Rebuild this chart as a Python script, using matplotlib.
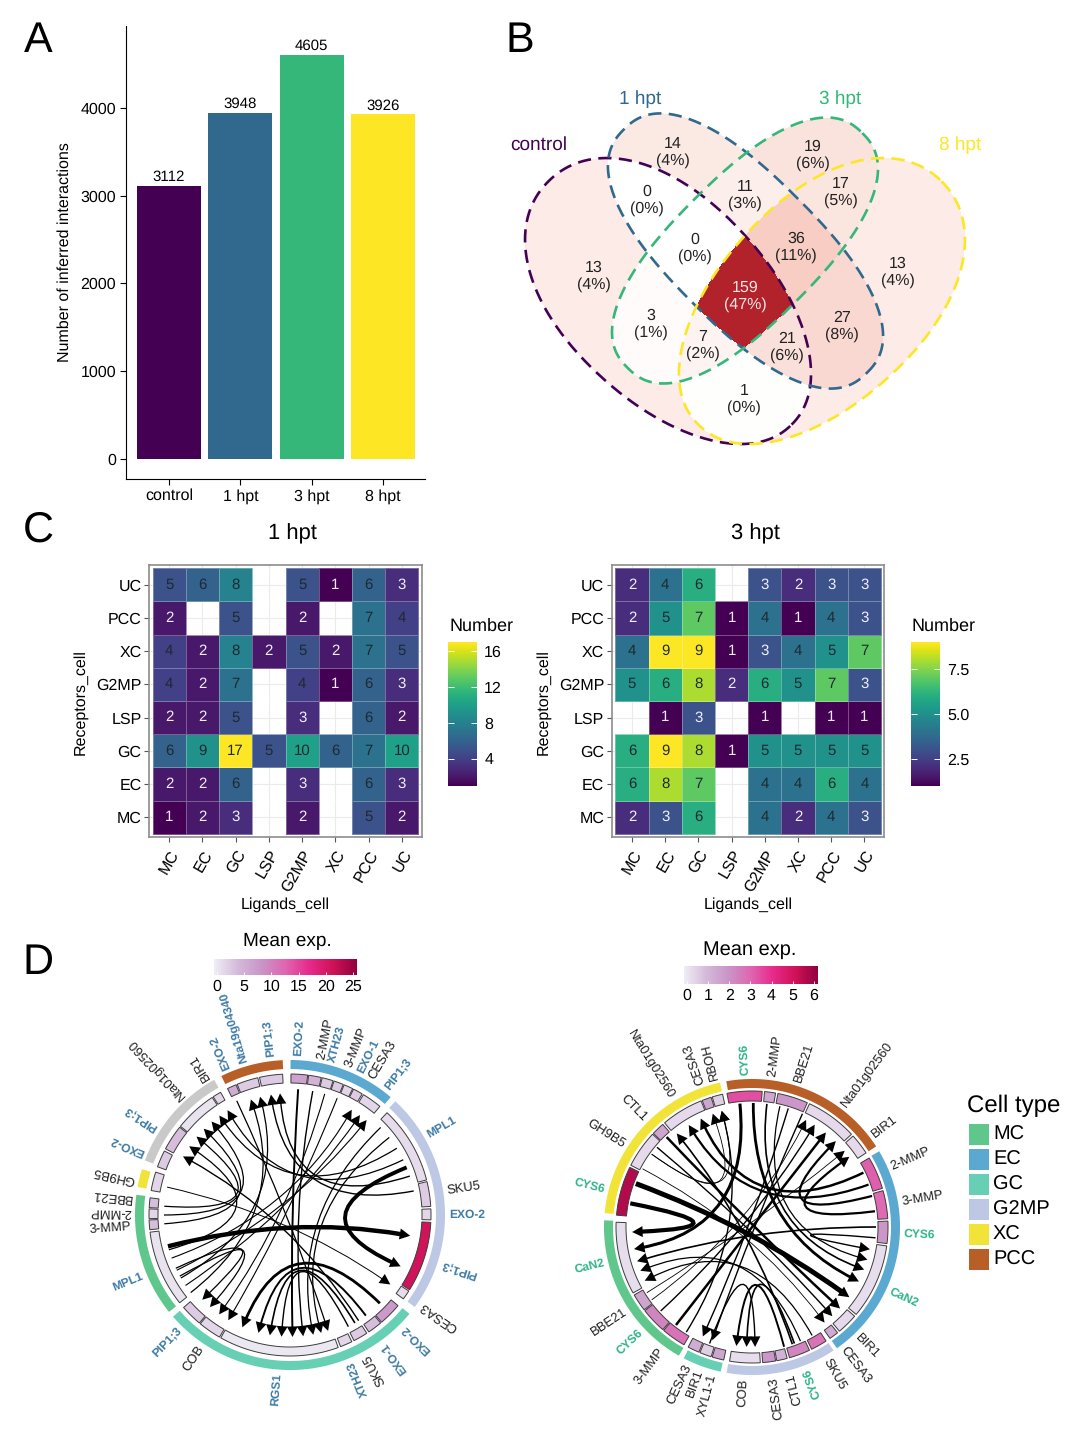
import numpy as np
import matplotlib
matplotlib.use('Agg')
import matplotlib.pyplot as plt
from matplotlib.cm import ScalarMappable
from matplotlib.colors import LinearSegmentedColormap, Normalize
from matplotlib.patches import PathPatch, Polygon, Rectangle
from matplotlib.path import Path

plt.rcParams['font.family'] = ['Liberation Sans', 'DejaVu Sans']
plt.rcParams['text.hinting'] = 'no_hinting'
plt.rcParams['text.hinting_factor'] = 1

W, H = 1080, 1433

# panel A
timepoints = ['control', '1 hpt', '3 hpt', '8 hpt']
interactions = [3112, 3948, 4605, 3926]
time_colors = ['#440154', '#31688E', '#35B779', '#FDE725']

# panel B, region membership as control / 1 hpt / 3 hpt / 8 hpt
venn_regions = ['1000', '0100', '0010', '0001', '1100', '1010', '1001', '0110',
                '0101', '0011', '1110', '1011', '1101', '0111', '1111']
venn_counts = [13, 14, 19, 13, 0, 3, 1, 11, 27, 17, 0, 7, 21, 36, 159]
venn_pcts = [4, 4, 6, 4, 0, 1, 0, 3, 8, 5, 0, 2, 6, 11, 47]

# panel C
ligand_cells = ['MC', 'EC', 'GC', 'LSP', 'G2MP', 'XC', 'PCC', 'UC']
receptor_cells = ['MC', 'EC', 'GC', 'LSP', 'G2MP', 'XC', 'PCC', 'UC']
n = np.nan
heat_1hpt = [[1, 2, 3, n, 2, n, 5, 2],
             [2, 2, 6, n, 3, n, 6, 3],
             [6, 9, 17, 5, 10, 6, 7, 10],
             [2, 2, 5, n, 3, n, 6, 2],
             [4, 2, 7, n, 4, 1, 6, 3],
             [4, 2, 8, 2, 5, 2, 7, 5],
             [2, n, 5, n, 2, n, 7, 4],
             [5, 6, 8, n, 5, 1, 6, 3]]
heat_3hpt = [[2, 3, 6, n, 4, 2, 4, 3],
             [6, 8, 7, n, 4, 4, 6, 4],
             [6, 9, 8, 1, 5, 5, 5, 5],
             [n, 1, 3, n, 1, n, 1, 1],
             [5, 6, 8, 2, 6, 5, 7, 3],
             [4, 9, 9, 1, 3, 4, 5, 7],
             [2, 5, 7, 1, 4, 1, 4, 3],
             [2, 4, 6, n, 3, 2, 3, 3]]

# panel D, left chord diagram (angles clockwise from 12 o'clock)
cell_colors = {'MC': '#5FC78B', 'EC': '#5BA8D1', 'GC': '#67CFB4', 'G2MP': '#BCC8E4',
               'XC': '#F1E337', 'PCC': '#B85F28', 'UC': '#C9C9C9'}
left_sectors = ['EC', 'G2MP', 'GC', 'MC', 'XC', 'UC', 'PCC']
left_sector_start = [0.2, 42.8, 129.6, 231.3, 280.4, 290.6, 333.7]
left_sector_end = [40.5, 126.4, 229.0, 277.5, 287.2, 330.7, 357.3]
left_genes = ['EXO-2', '2-MMP', 'XTH23', '3-MMP', 'EXO-1', 'CESA3', 'PIP1;3',
              'MPL1', 'SKU5', 'EXO-2', 'PIP1;3', 'CESA3',
              'EXO-2', 'EXO-1', 'SKU5', 'XTH23', 'RGS1', 'COB', 'PIP1;3',
              'MPL1', '3-MMP', '2-MMP', 'BBE21', 'GH9B5',
              'EXO-2', 'PIP1;3', 'Nta01g02560', 'BIR1',
              'EXO-2', 'Nta19g04340', 'PIP1;3']
left_gene_start = [0.4, 7.6, 13.2, 18.2, 22.6, 26.8, 31.4,
                   43.5, 76.3, 87.5, 93.0, 122.6,
                   130.0, 140.0, 147.0, 154.0, 160.0, 210.0, 220.0,
                   231.5, 264.0, 268.5, 273.0, 280.0,
                   290.0, 298.0, 309.0, 327.0,
                   333.7, 338.0, 347.5]
left_gene_end = [7.2, 12.8, 17.8, 22.2, 26.4, 30.8, 39.6,
                 75.6, 86.5, 92.0, 122.0, 126.5,
                 139.5, 146.0, 153.0, 159.0, 209.4, 219.5, 229.0,
                 263.0, 268.0, 272.5, 277.0, 287.7,
                 297.0, 308.5, 326.5, 330.5,
                 337.5, 346.8, 357.0]
left_gene_exp = [7, 5, 3, 3, 2, 3, 2,
                 1.5, 3, 2, 21, 1.5,
                 8, 4, 3, 2, 0.5, 2, 3,
                 1, 4, 2, 4, 2,
                 3, 4, 1, 2,
                 6, 3, 3]
left_label_angle = [3.0, 11.4, 15.4, 21.4, 26.3, 30.9, 37.6,
                    60.0, 81.2, 90.0, 107.8, 124.4,
                    134.6, 144.0, 151.3, 157.6, 184.4, 214.0, 223.9,
                    247.6, 265.8, 271.0, 276.0, 282.7,
                    292.9, 302.9, 317.4, 328.4,
                    336.6, 343.3, 353.4]
left_black_labels = ['2-MMP', '3-MMP', 'CESA3', 'SKU5', 'COB', 'BBE21', 'GH9B5',
                     'Nta01g02560', 'BIR1']
left_link_from = [255.6, 67.8, 134.5, 143.0, 149.0, 152.4, 3.7, 10.4, 46.0, 52.0, 335.0,
                  282.8, 147.0, 254.0, 274.0, 266.0, 270.0, 58.0, 64.0,
                  232.0, 240.0, 79.0, 72.0, 250.0, 236.0, 244.0, 22.0, 16.0, 245.0, 241.0]
left_link_to = [99.8, 114.9, 203.0, 195.0, 189.5, 184.0, 178.8, 173.8, 169.0, 165.2, 161.8,
                124.7, 298.7, 304.3, 310.0, 315.0, 320.0, 324.6, 329.2,
                341.3, 345.8, 351.0, 355.3, 30.4, 35.0, 38.9, 210.4, 215.5, 221.0, 226.0]
left_link_width = [3.2, 2.8, 2.0, 1.4, 1.2, 1.0, 1.4, 1.0, 0.9, 0.9, 0.9,
                   0.7, 1.0, 0.9, 0.9, 0.9, 0.9, 0.9, 0.9,
                   0.9, 0.9, 1.0, 1.0, 0.8, 0.8, 0.8, 0.8, 0.8, 0.9, 0.9]

# panel D, right chord diagram
right_sectors = ['PCC', 'EC', 'G2MP', 'GC', 'MC', 'XC']
right_sector_start = [-10.0, 59.2, 146.6, 192.2, 209.6, 275.4]
right_sector_end = [57.0, 145.0, 189.9, 207.5, 272.6, 347.5]
right_genes = ['CYS6', '2-MMP', 'BBE21', 'Nta01g02560', 'BIR1',
               '2-MMP', '3-MMP', 'CYS6', 'CaN2', 'BIR1', 'CESA3',
               'SKU5', 'CYS6', 'CTL1', 'CESA3', 'COB',
               'XYL1-1', 'BIR1', 'CESA3',
               '3-MMP', 'CYS6', 'BBE21', 'CaN2',
               'CYS6', 'GH9B5', 'CTL1', 'Nta01g02560', 'CESA3', 'RBOH']
right_gene_start = [-10.6, 5.3, 11.0, 25.0, 48.0,
                    59.5, 74.5, 87.5, 98.0, 131.0, 141.0,
                    147.0, 155.0, 165.0, 170.0, 176.5,
                    192.0, 197.5, 203.0,
                    210.0, 221.0, 232.5, 241.0,
                    275.0, 297.0, 313.5, 320.0, 338.5, 343.0]
right_gene_end = [4.3, 10.0, 24.0, 47.0, 57.0,
                  73.5, 86.5, 97.0, 130.0, 140.0, 145.0,
                  154.0, 164.0, 169.5, 175.5, 189.5,
                  197.0, 202.5, 208.0,
                  220.5, 232.0, 240.0, 272.0,
                  296.0, 313.0, 319.0, 338.0, 342.5, 347.5]
right_gene_exp = [3.5, 1.5, 2, 0.4, 0.4,
                  3.2, 3.0, 2, 0.3, 0.4, 1.5,
                  2.8, 2.4, 1.2, 2.0, 0.3,
                  1.6, 0.6, 1.4,
                  2.8, 2.4, 1.6, 0.3,
                  5.6, 0.4, 1.6, 0.4, 1.6, 0.6]
right_label_angle = [357.4, 7.7, 17.6, 36.7, 52.7,
                     66.6, 80.5, 92.5, 114.8, 135.9, 143.0,
                     150.5, 159.1, 165.6, 172.0, 183.2,
                     194.9, 200.0, 205.0,
                     216.5, 226.7, 236.4, 256.3,
                     284.3, 302.5, 315.3, 328.3, 340.4, 345.7]
right_colored_labels = ['CYS6', 'CaN2']
right_link_from = [290.5, 281.0, 354.4, 0.6, 64.0, 70.0, 217.8, 75.5, 82.7, 90.0, 95.0,
                   227.4, 234.0, 238.0, 316.5, 310.0, 298.0, 306.0, 306.0, 212.0, 161.0,
                   6.9, 13.0, 157.0, 151.0, 17.0, 24.0, 165.0, 160.0, 200.0]
right_link_to = [125.8, 267.6, 259.4, 117.0, 334.7, 328.2, 38.0, 44.3, 54.2, 253.4, 100.7,
                 31.5, 26.8, 50.6, 132.8, 138.0, 142.8, 345.4, 340.9, 345.4, 321.2,
                 110.8, 105.8, 248.6, 243.4, 204.2, 199.3, 187.5, 182.6, 178.5]
right_link_width = [3.6, 3.0, 2.2, 2.0, 1.8, 1.6, 1.8, 1.6, 1.6, 1.2, 1.0,
                    1.0, 0.6, 0.6, 1.8, 1.0, 0.6, 0.6, 0.6, 1.0, 1.2,
                    1.2, 0.9, 0.9, 0.9, 1.0, 1.0, 1.4, 1.2, 1.0]

legend_cells = ['MC', 'EC', 'GC', 'G2MP', 'XC', 'PCC']

exp_cmap = LinearSegmentedColormap.from_list(
    'exp', ['#EFEDF5', '#D4B9DA', '#C994C7', '#DF65B0', '#E7298A', '#CE1256', '#91003F'])
venn_cmap = LinearSegmentedColormap.from_list(
    'venn', [(0, '#FFFFFF'), (0.08, '#FCEBE6'), (0.23, '#F7CCC3'), (1, '#B2222A')])

fig = plt.figure(figsize=(W / 100, H / 100), dpi=100)
canvas = fig.add_axes([0, 0, 1, 1], zorder=5)
canvas.set_xlim(0, W)
canvas.set_ylim(H, 0)
canvas.axis('off')
canvas.patch.set_alpha(0)


def px_axes(x0, y0, x1, y1):
    """Axes placed by pixel box, y counted from the top"""
    return fig.add_axes([x0 / W, 1 - y1 / H, (x1 - x0) / W, (y1 - y0) / H])


def polar(cx, cy, r, deg):
    a = np.radians(deg)
    return cx + r * np.sin(a), cy - r * np.cos(a)


def draw_bars():
    ax = px_axes(126, 26, 425, 479)
    ax.bar(range(4), interactions, width=0.9, color=time_colors)
    ax.set_xlim(-0.603, 3.589)
    ax.set_ylim(-228, 4934)
    ax.set_xticks(range(4), timepoints)
    ax.set_yticks([0, 1000, 2000, 3000, 4000])
    ax.tick_params(labelsize=11.2, length=4, width=0.8, pad=3)
    ax.spines[['top', 'right']].set_visible(False)
    for i, v in enumerate(interactions):
        ax.text(i, v + 20, str(v), ha='center', va='bottom', fontsize=10.5)
    canvas.text(65, 252, 'Number of inferred interactions', rotation=90,
                ha='center', va='center', fontsize=11.3)


def draw_venn():
    # centre x, centre y, half major, half minor, major axis slope sign, exponent, egg factor
    ellipses = [(670, 303, 172, 101, 1, 2.1, -0.06), (745.5, 251, 172, 74, 1, 2.4, 0),
                (745, 250.5, 166, 72, -1, 2.4, 0), (820, 303, 172, 101, -1, 2.1, 0.06)]
    xs, ys = np.meshgrid(np.arange(510, 980, 0.5), np.arange(105, 455, 0.5))
    members = []
    outlines = []
    for cx, cy, a, b, sign, p, k in ellipses:
        along = ((xs - cx) + sign * (ys - cy)) / np.sqrt(2)
        across = ((xs - cx) - sign * (ys - cy)) / np.sqrt(2)
        width = b * (1 + k * along / a)
        members.append(np.abs(along / a) ** p + np.abs(across / width) ** p <= 1)
        t = np.linspace(0, 2 * np.pi, 500)
        cu, sv = np.cos(t), np.sin(t)
        u = np.sign(cu) * np.abs(cu) ** (2 / p)
        v = np.sign(sv) * np.abs(sv) ** (2 / p) * (1 + k * u)
        u, v = a * u, b * v
        outlines.append((cx + (u + v) / np.sqrt(2), cy + sign * (u - v) / np.sqrt(2)))
    field = np.full(xs.shape, np.nan)
    for region, count in zip(venn_regions, venn_counts):
        mask = np.ones(xs.shape, dtype=bool)
        for flag, member in zip(region, members):
            mask &= member if flag == '1' else ~member
        field[mask] = count
    canvas.imshow(np.ma.masked_invalid(field), cmap=venn_cmap, vmin=0, vmax=159,
                  extent=(510, 980, 455, 105), origin='upper', aspect='auto',
                  interpolation='nearest', zorder=1)
    canvas.set_xlim(0, W)
    canvas.set_ylim(H, 0)
    for (ox, oy), color in zip(outlines, time_colors):
        canvas.plot(ox, oy, color=color, lw=1.9, dashes=(5, 2.8), zorder=2)
    label_x = [594, 673, 813, 898, 647, 651, 744, 745, 842, 841, 695, 703, 787, 796, 745]
    label_y = [276, 152, 155, 272, 200, 324, 399, 195, 326, 192, 248, 345, 347, 247, 296]
    for x, y, c, p in zip(label_x, label_y, venn_counts, venn_pcts):
        canvas.text(x, y, f'{c}\n({p}%)', ha='center', va='center', fontsize=11.2,
                    linespacing=1.2, color='#F4E6E6' if c > 100 else '#222222', zorder=3)
    for name, x, y, color in zip(timepoints, [539, 640, 840, 960], [145, 99, 99, 145],
                                 ['#440154', '#31688E', '#35B779', '#FDE725']):
        canvas.text(x, y, name, ha='center', va='center', fontsize=14, color=color)


def draw_heatmap(values, x0, bar_x0, title, vmax, bar_ticks, bar_labels):
    ax = px_axes(x0, 565, x0 + 272.4, 837)
    data = np.ma.masked_invalid(np.array(values, dtype=float))
    edges = np.arange(9) - 0.5
    ax.grid(color='#EBEBEB', lw=0.8)
    ax.set_axisbelow(True)
    mesh = ax.pcolormesh(edges, edges, data, cmap='viridis', vmin=1, vmax=vmax,
                         edgecolor=(1, 1, 1, 0.3), linewidth=0.6)
    ax.set_xlim(-0.6, 7.6)
    ax.set_ylim(-0.6, 7.6)
    ax.set_xticks(range(8), ligand_cells, rotation=60, ha='right', rotation_mode='anchor')
    ax.set_yticks(range(8), receptor_cells)
    ax.tick_params(labelsize=11.5, length=3.5, width=0.8, color='#555555', pad=2)
    ax.tick_params(axis='x', pad=4)
    for spine in ax.spines.values():
        spine.set_color('#8C8C8C')
        spine.set_linewidth(1.2)
    for row in range(8):
        for col in range(8):
            v = values[row][col]
            if not np.isnan(v):
                ax.text(col, row, str(int(v)), ha='center', va='center', fontsize=10.8,
                        color='#F2EEF8' if v <= 3 else '#1E2A30')
    canvas.text(x0 + 143, 534, title, ha='center', va='center', fontsize=16)
    canvas.text(x0 + 136, 905, 'Ligands_cell', ha='center', va='center', fontsize=11.8)
    canvas.text(x0 - 69, 702, 'Receptors_cell', rotation=90, ha='center', va='center',
                fontsize=11.8)
    canvas.text(bar_x0 + 33, 626, 'Number', ha='center', va='center', fontsize=12.8)
    cax = px_axes(bar_x0, 642.5, bar_x0 + 29, 785.5)
    cb = fig.colorbar(mesh, cax=cax, ticks=bar_ticks)
    cb.ax.set_yticklabels(bar_labels)
    cb.outline.set_visible(False)
    cax.tick_params(length=4, width=0.7, color='white', direction='in', labelsize=11.5, pad=5,
                    left=True, right=True)


def draw_exp_bar(x0, y0, x1, y1, vmin, vmax, ticks, title, title_x, title_y, title_size):
    cax = px_axes(x0, y0, x1, y1)
    sm = ScalarMappable(Normalize(vmin, vmax), exp_cmap)
    cb = fig.colorbar(sm, cax=cax, orientation='horizontal', ticks=ticks)
    cb.outline.set_visible(False)
    cax.tick_params(length=2.5, width=0.6, color='white', direction='in', labelsize=11.5, pad=3)
    canvas.text(title_x, title_y, title, ha='center', va='center', fontsize=title_size)


def band(cx, cy, r0, r1, a0, a1, **kw):
    t = np.linspace(a0, a1, max(int(abs(a1 - a0)) * 2, 6))
    outer = [polar(cx, cy, r1, d) for d in t]
    inner = [polar(cx, cy, r0, d) for d in t[::-1]]
    canvas.add_patch(Polygon(outer + inner, closed=True, **kw))


def draw_chord(cx, cy, ring, boxes, r_start, r_tip, sectors, sec_start, sec_end, genes,
               gene_start, gene_end, gene_exp, vmax, label_angle, colored, label_color,
               inward_from, inward_to, link_from, link_to, link_width):
    norm = Normalize(0, vmax)
    for name, a0, a1 in zip(sectors, sec_start, sec_end):
        band(cx, cy, ring[0], ring[1], a0, a1, fc=cell_colors[name], ec='none', zorder=2)
    for a0, a1, v in zip(gene_start, gene_end, gene_exp):
        band(cx, cy, boxes[0], boxes[1], a0, a1, fc=exp_cmap(norm(v)), ec='#3C3C3C', lw=0.7,
             zorder=2)
    for name, deg, hl in zip(genes, label_angle, colored):
        x, y = polar(cx, cy, ring[1] + 4, deg)
        if inward_from < deg % 360 < inward_to:
            rot, ha = 270 - deg, 'right'
        else:
            rot, ha = 90 - deg, 'left'
        canvas.text(x, y, name, rotation=rot, rotation_mode='anchor', ha=ha, va='center',
                    fontsize=8.5 if hl else 9.3, color=label_color if hl else '#222222',
                    fontweight='bold' if hl else 'normal', zorder=4)
    head = 10.5
    for a, b, lw in zip(link_from, link_to, link_width):
        p0 = polar(cx, cy, r_start, a)
        p2 = polar(cx, cy, r_tip - head * 0.7, b)
        path = Path([p0, (cx, cy), p2], [Path.MOVETO, Path.CURVE3, Path.CURVE3])
        canvas.add_patch(PathPatch(path, fc='none', ec='black', lw=lw, capstyle='butt', zorder=3))
        tip = polar(cx, cy, r_tip, b)
        bx, by = polar(cx, cy, r_tip - head, b)
        nx, ny = np.cos(np.radians(b)) * 5.5, np.sin(np.radians(b)) * 5.5
        canvas.add_patch(Polygon([tip, (bx + nx, by + ny), (bx - nx, by - ny)], closed=True,
                                 fc='black', ec='none', zorder=3))


draw_bars()
draw_venn()
draw_heatmap(heat_1hpt, 149.3, 448.3, '1 hpt', 17, [4, 8, 12, 16], ['4', '8', '12', '16'])
draw_heatmap(heat_3hpt, 612, 911, '3 hpt', 9, [2.5, 5, 7.5], ['2.5', '5.0', '7.5'])

draw_exp_bar(214, 959, 357, 975, -0.5, 25.7, [0, 5, 10, 15, 20, 25], 'Mean exp.', 287, 941, 13.6)
draw_exp_bar(684, 966, 818, 984, -0.14, 6.2, [0, 1, 2, 3, 4, 5, 6], 'Mean exp.', 750, 950, 14.6)

draw_chord(290, 1215, (146, 155), (132, 141), 126, 122, left_sectors, left_sector_start,
           left_sector_end, left_genes, left_gene_start, left_gene_end, left_gene_exp, 25.7,
           left_label_angle, [g not in left_black_labels for g in left_genes], '#3F7CA6',
           92, 266, left_link_from, left_link_to, left_link_width)
draw_chord(752, 1227, (139, 148), (126, 136), 124, 120, right_sectors, right_sector_start,
           right_sector_end, right_genes, right_gene_start, right_gene_end, right_gene_exp, 6.2,
           right_label_angle, [g in right_colored_labels for g in right_genes], '#2FB58A',
           155, 340, right_link_from, right_link_to, right_link_width)

canvas.text(967, 1106, 'Cell type', ha='left', va='center', fontsize=17)
for i, name in enumerate(legend_cells):
    y = 1124 + i * 24.9
    canvas.add_patch(Rectangle((969, y), 20, 21, fc=cell_colors[name], ec='none'))
    canvas.text(993, y + 11, name, ha='left', va='center', fontsize=14.4)

for letter, x, y in zip('ABCD', [38, 520, 38, 38], [41, 41, 530, 963]):
    canvas.text(x, y, letter, ha='center', va='center', fontsize=31)

fig.savefig('out.png', dpi=100)
